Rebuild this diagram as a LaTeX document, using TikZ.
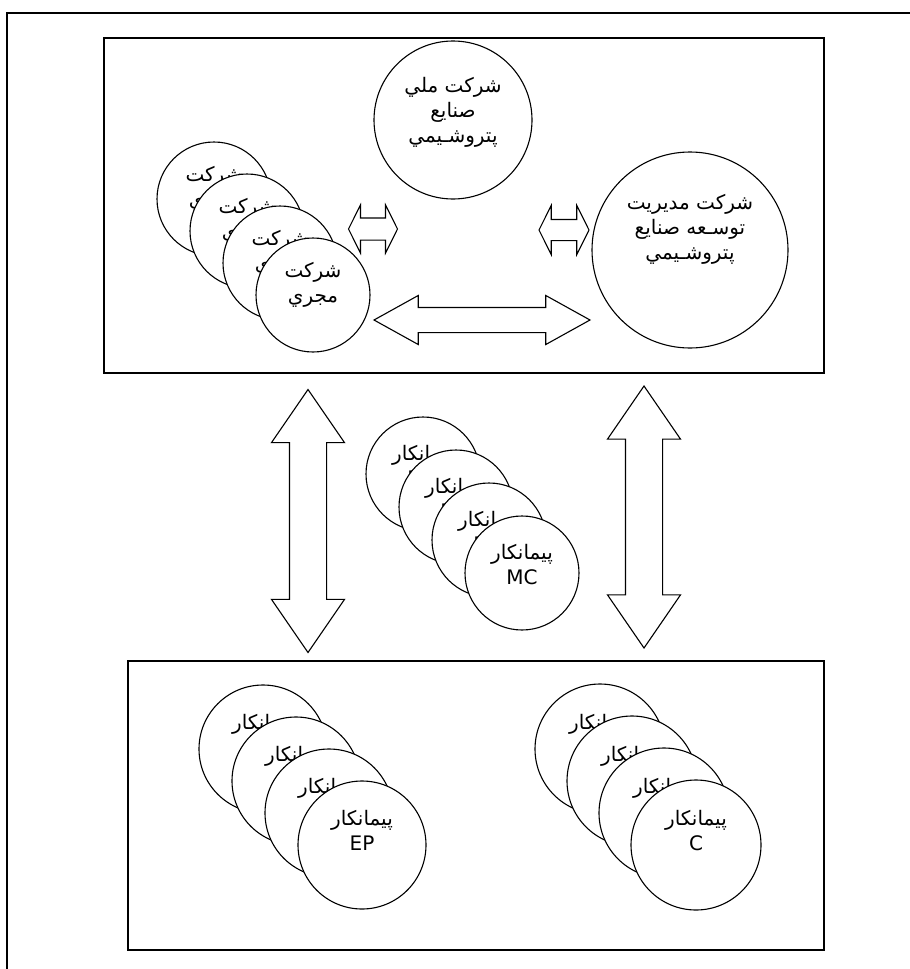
\documentclass[tikz,border=0pt]{standalone}
\usepackage{fontspec}
\usetikzlibrary{shapes.arrows}
\newfontfamily\arabicfont[Script=Arabic]{DejaVu Sans}
\TeXXeTstate=1

\begin{document}
\begin{tikzpicture}[x=1pt, y=-1pt,
    bub/.style={circle, draw, fill=white, line width=1.1pt, inner sep=0pt},
    txt/.style={align=center, inner sep=0pt, font=\arabicfont\fontsize{20}{25}\selectfont},
    frame/.style={draw, line width=1.5pt},
    dblarr/.style={double arrow, draw, fill=white, line width=1.1pt}]
  \useasboundingbox (0,0) rectangle (910,969);

  % outer frame and the two boxes
  \draw[frame] (7,990) -- (7,13) -- (930,13);
  \draw[frame] (104,38) rectangle (824,373);
  \draw[frame] (128,661) rectangle (824,950);

  % top box
  \node[bub, minimum size=158] (nat) at (453,120) {};
  \node[txt] (natl) at ([yshift=8pt]nat) {\beginR شرکت ملي\endR\\\beginR صنايع\endR\\\beginR پتروشـيمي\endR};
  \node[bub, minimum size=196] (dev) at (690,250) {};
  \node[txt] (devl) at ([yshift=21pt]dev) {\beginR شرکت مديريت\endR\\\beginR توسـعه صنايع\endR\\\beginR پتروشـيمي\endR};
  \foreach \i in {3,2,1,0} {
    \node[bub, minimum size=114] (ex\i) at (313-33*\i, 295-32*\i) {};
    \node[txt] (exl\i) at ([yshift=10pt]ex\i) {\beginR شرکت\endR\\\beginR مجري\endR};
  }
  \node[dblarr, minimum height=49, minimum width=47, inner sep=10.5pt, double arrow head extend=13, double arrow tip angle=127] (a1) at (373,229) {};
  \node[dblarr, minimum height=50, minimum width=48, inner sep=10pt, double arrow head extend=14, double arrow tip angle=127] (a2) at (564,230) {};
  \node[dblarr, minimum height=216, minimum width=48, inner sep=12pt, double arrow head extend=12, double arrow tip angle=58] (a3) at (482,320) {};

  % middle
  \node[dblarr, minimum height=263, minimum width=72, inner sep=18pt, double arrow head extend=18, double arrow tip angle=69, shape border rotate=90] (vl) at (308,521) {};
  \node[dblarr, minimum height=262, minimum width=72, inner sep=18pt, double arrow head extend=18, double arrow tip angle=69, shape border rotate=90] (vr) at (644,517) {};
  \foreach \i in {3,2,1,0} {
    \node[bub, minimum size=114] (mc\i) at (522-33*\i, 573-33*\i) {};
    \node[txt] (mcl\i) at ([yshift=8pt]mc\i) {\beginR پيمانکار\endR\\MC};
  }

  % bottom box
  \foreach \i in {3,2,1,0} {
    \node[bub, minimum size=128] (ep\i) at (362-33*\i, 845-32*\i) {};
    \node[txt] (epl\i) at ([yshift=15pt]ep\i) {\beginR پيمانکار\endR\\EP};
  }
  \foreach \i in {3,2,1,0} {
    \node[bub, minimum size=130] (c\i) at (696-32*\i, 845-32*\i) {};
    \node[txt] (cl\i) at ([yshift=14pt]c\i) {\beginR پيمانکار\endR\\C};
  }
\end{tikzpicture}
\end{document}
